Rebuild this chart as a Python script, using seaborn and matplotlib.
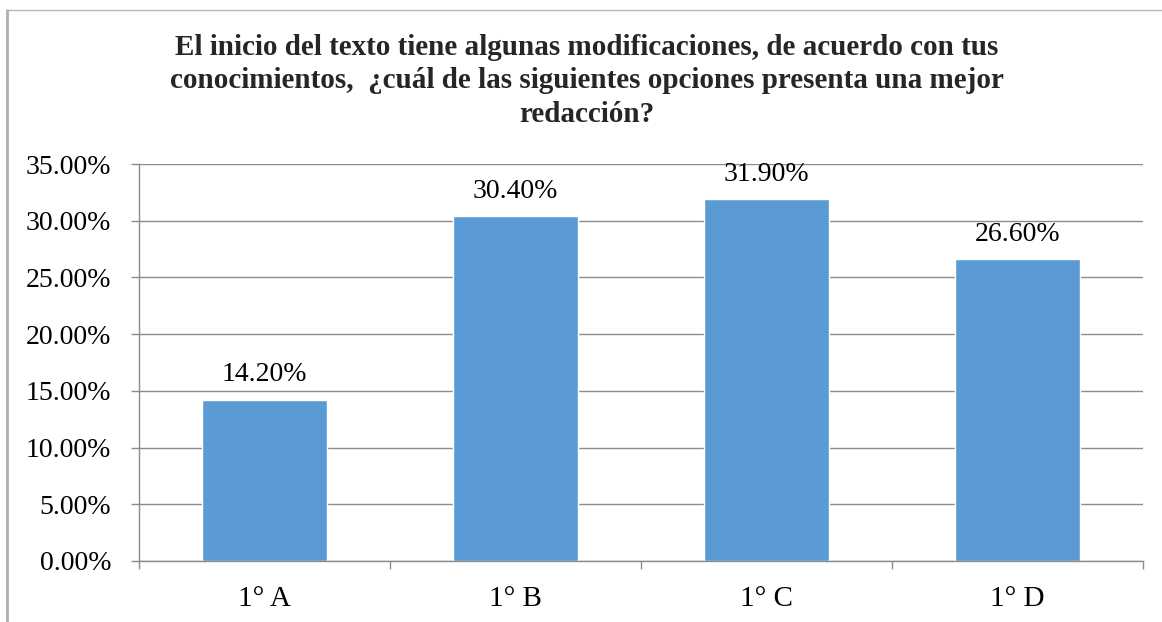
import numpy as np
import matplotlib
matplotlib.use("Agg")
import matplotlib.pyplot as plt
import seaborn as sns
import pandas as pd
from matplotlib.ticker import FuncFormatter, FixedLocator

# datos del grafico
grupos = ["1° A", "1° B", "1° C", "1° D"]
porcentajes = [14.2, 30.4, 31.9, 26.6]
titulo = ("El inicio del texto tiene algunas modificaciones, de acuerdo con tus\n"
          "conocimientos,  ¿cuál de las siguientes opciones presenta una mejor\n"
          "redacción?")

df = pd.DataFrame({"grupo": grupos, "pct": porcentajes})

sns.set_theme(style="white")
plt.rcParams["font.family"] = ["Liberation Serif", "DejaVu Serif"]

fig = plt.figure(figsize=(11.62, 6.22), dpi=100)
ax = fig.add_axes([139 / 1162, 1 - 561 / 622, (1143 - 139) / 1162, (561 - 164) / 622])

sns.barplot(data=df, x="grupo", y="pct", color="#5B9BD5", width=0.5,
            saturation=1, ax=ax)

ax.set_ylim(0, 35)
ax.set_yticks(np.arange(0, 36, 5))
ax.yaxis.set_major_formatter(FuncFormatter(lambda v, p: f"{v:.2f}%"))
ax.set_xlim(-0.5, 3.5)
ax.grid(axis="y", color="#8C8C8C", linewidth=1)
ax.set_axisbelow(True)

for s in ["top", "right"]:
    ax.spines[s].set_visible(False)
for s in ["left", "bottom"]:
    ax.spines[s].set_color("#8C8C8C")
    ax.spines[s].set_linewidth(1)

ax.tick_params(axis="y", which="major", left=True, length=6, width=1,
               color="#8C8C8C", pad=14, labelsize=20, labelcolor="black")
ax.tick_params(axis="x", which="major", bottom=False, length=0, pad=18,
               labelsize=21, labelcolor="black")
ax.xaxis.set_minor_locator(FixedLocator([-0.5, 0.5, 1.5, 2.5, 3.5]))
ax.tick_params(axis="x", which="minor", bottom=True, length=6, width=1,
               color="#8C8C8C")
ax.set_xlabel("")
ax.set_ylabel("")

for c in ax.containers:
    ax.bar_label(c, labels=[f"{v:.2f}%" for v in porcentajes], padding=9,
                 fontsize=20, color="black")

fig.text(0.505, 1 - 34 / 622, titulo, ha="center", va="top", fontsize=21,
         fontweight="bold", linespacing=1.3)

# marco del grafico
fig.add_artist(plt.Line2D([7 / 1162, 7 / 1162], [0, 1 - 10 / 622],
                          transform=fig.transFigure, color="#B0B0B0", linewidth=2))
fig.add_artist(plt.Line2D([7 / 1162, 1], [1 - 10 / 622, 1 - 10 / 622],
                          transform=fig.transFigure, color="#B8B8B8", linewidth=1))

fig.savefig("out.png", dpi=100)
